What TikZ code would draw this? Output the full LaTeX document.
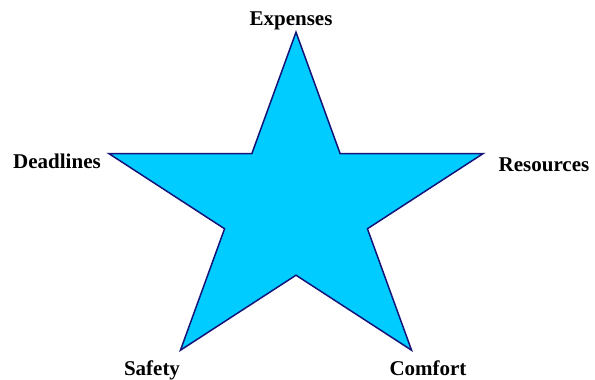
\documentclass[tikz,border=0pt]{standalone}
\usepackage{fontspec}
\setmainfont{Liberation Serif}
\usepackage{tikz}
\usetikzlibrary{positioning}
\definecolor{starfill}{HTML}{00CCFF}
\definecolor{starline}{HTML}{14147A}
\tikzset{
    starshape/.style={draw=starline, fill=starfill, line width=1.5pt, line join=miter},
    factor/.style={anchor=base, inner sep=0pt, font=\bfseries\fontsize{21}{25}\selectfont},
}
\begin{document}
\begin{tikzpicture}[x=1pt, y=-1pt]
        \useasboundingbox (0,0) rectangle (595,380);
        % Star points
        \foreach \i in {0,...,4} {
            \coordinate (o\i) at ({296+196.6*cos(90+72*\i)}, {208-175.8*sin(90+72*\i)});
            \coordinate (i\i) at ({296+75.1*cos(126+72*\i)}, {208-67.2*sin(126+72*\i)});
        }
        \draw[starshape] (o0) -- (i0) -- (o1) -- (i1) -- (o2) -- (i2) -- (o3) -- (i3) -- (o4) -- (i4) -- cycle;
        % Labels
        \node[factor] (exp) at (291,25)  {Expenses};
        \node[factor] (dea) at (57,168)  {Deadlines};
        \node[factor] (saf) at (152,375) {Safety};
        \node[factor] (com) at (428,375) {Comfort};
        \node[factor] (res) at (544,171) {Resources};
    \end{tikzpicture}
\end{document}
